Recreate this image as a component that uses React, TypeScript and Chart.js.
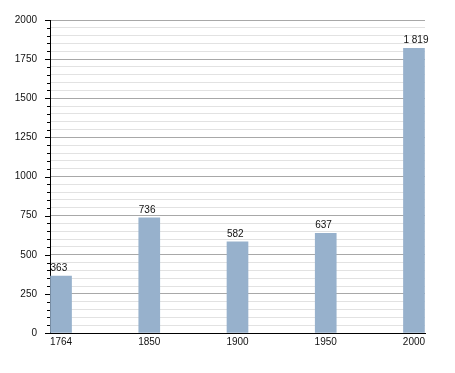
import React, { useEffect, useRef } from "react";
import { Chart, registerables } from "chart.js";

Chart.register(...registerables);

const years = ["1764", "1850", "1900", "1950", "2000"];
const population = [363, 736, 582, 637, 1819];
const valueLabels = ["363", "736", "582", "637", "1 819"];
const yMax = 2000;
const majorStep = 250;
const minorStep = 50;

const FONT = "'Liberation Sans', Arial, sans-serif";

const decorPlugin = {
  id: "decor",
  afterDatasetsDraw(chart: any) {
    const ctx = chart.ctx;
    const y = chart.scales.y;
    const left = chart.chartArea.left;
    ctx.save();
    ctx.strokeStyle = "#000";
    ctx.lineWidth = 1;
    for (let v = 0; v <= yMax; v += minorStep) {
      const py = Math.round(y.getPixelForValue(v)) + 0.5;
      const len = v % majorStep === 0 ? 5 : 3;
      ctx.beginPath();
      ctx.moveTo(left - len, py);
      ctx.lineTo(left, py);
      ctx.stroke();
    }
    const meta = chart.getDatasetMeta(0);
    ctx.fillStyle = "#111";
    ctx.font = `10px ${FONT}`;
    ctx.textAlign = "left";
    ctx.textBaseline = "alphabetic";
    meta.data.forEach((bar: any, i: number) => {
      const bx = bar.x - bar.width / 2;
      ctx.fillText(valueLabels[i], bx, bar.y - 5);
    });
    ctx.restore();
  },
};

export default function App() {
  const ref = useRef<HTMLCanvasElement>(null);
  useEffect(() => {
    const chart = new Chart(ref.current!, {
      type: "bar",
      data: {
        datasets: [
          {
            data: population.map((v, i) => ({ x: i, y: v })),
            backgroundColor: "#97b1cc",
            borderWidth: 0,
            barThickness: 21,
          },
        ],
      },
      options: {
        animation: false,
        responsive: false,
        events: [],
        layout: { padding: { left: 0, top: 20, right: 30, bottom: 20 } },
        plugins: { legend: { display: false }, tooltip: { enabled: false } },
        scales: {
          x: {
            type: "linear",
            offset: false,
            min: -0.125,
            max: 4.125,
            afterBuildTicks: (s: any) => {
              s.ticks = years.map((_, i) => ({ value: i }));
            },
            afterFit: (s: any) => {
              s.height = 20;
            },
            grid: { display: false, drawTicks: false, offset: false },
            border: { display: true, color: "#000", width: 1 },
            ticks: {
              padding: 3,
              autoSkip: false,
              maxRotation: 0,
              color: "#111",
              font: { family: FONT, size: 10 },
              callback: (v: any) => years[v] ?? "",
            },
          },
          y: {
            type: "linear",
            min: 0,
            max: yMax,
            afterFit: (s: any) => {
              s.width = 50;
            },
            grid: {
              drawTicks: false,
              color: (c: any) =>
                c.tick && c.tick.value % majorStep === 0 ? "#a8a8a8" : "#e2e2e2",
            },
            border: { display: true, color: "#000", width: 1 },
            ticks: {
              stepSize: minorStep,
              autoSkip: false,
              padding: 13,
              color: "#111",
              font: { family: FONT, size: 10 },
              callback: (v: any) => (v % majorStep === 0 ? String(v) : ""),
            },
          },
        },
      },
      plugins: [decorPlugin],
    });
    return () => chart.destroy();
  }, []);
  return (
    <div style={{ position: "fixed", left: 0, top: 0, width: 455, height: 373, background: "#fff" }}>
      <canvas ref={ref} width={455} height={373} style={{ width: 455, height: 373 }} />
    </div>
  );
}
